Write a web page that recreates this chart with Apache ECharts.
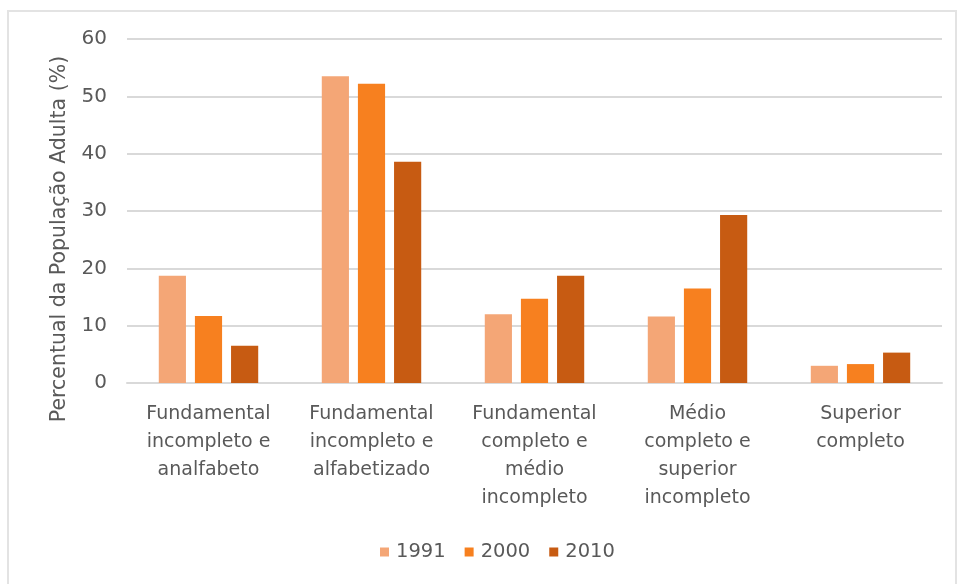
<!DOCTYPE html>
<html>
<head>
<meta charset="utf-8">
<script src="https://cdn.jsdelivr.net/npm/echarts@6/dist/echarts.min.js"></script>
<style>
html,body{margin:0;padding:0;background:#fff;}
#chart{width:958px;height:584px;}
</style>
</head>
<body>
<div id="chart"></div>
<script>
const categories = [
  "Fundamental\nincompleto e\nanalfabeto",
  "Fundamental\nincompleto e\nalfabetizado",
  "Fundamental\ncompleto e\nmédio\nincompleto",
  "Médio\ncompleto e\nsuperior\nincompleto",
  "Superior\ncompleto"
];
const seriesNames = ["1991", "2000", "2010"];
const values1991 = [18.7, 53.5, 12.0, 11.6, 3.0];
const values2000 = [11.7, 52.2, 14.7, 16.5, 3.3];
const values2010 = [6.5, 38.6, 18.7, 29.3, 5.3];
const yTitle = "Percentual da População Adulta (%)";

const colors = ["#F4A676", "#F7801F", "#C75B12"];
const FONT = "'DejaVu Sans', sans-serif";
const TXT = "#595959";

const chart = echarts.init(document.getElementById('chart'), null, {renderer: 'canvas'});
const data = [values1991, values2000, values2010];
chart.setOption({
  animation: false,
  color: colors,
  textStyle: {fontFamily: FONT},
  grid: {left: 127, right: 16, top: 39, bottom: 201},
  graphic: [
    {type: 'rect', shape: {x: 8, y: 11, width: 948, height: 620},
     style: {fill: 'none', stroke: '#e3e3e3', lineWidth: 2}, silent: true},
    {type: 'text', x: 60, y: 239, rotation: Math.PI / 2,
     style: {text: yTitle, fill: TXT, font: "20.5px 'DejaVu Sans'", align: 'center', verticalAlign: 'middle'}}
  ],
  legend: {
    data: seriesNames, top: 537, left: 375,
    itemWidth: 9, itemHeight: 9, itemGap: 19,
    icon: 'rect',
    textStyle: {color: TXT, fontSize: 19.5, fontFamily: FONT, padding: [0, 0, 0, 2]}
  },
  xAxis: {
    type: 'category', data: categories,
    axisLine: {lineStyle: {color: '#d9d9d9', width: 2}},
    axisTick: {show: false},
    axisLabel: {color: TXT, fontSize: 19, lineHeight: 28, margin: 17, interval: 0, fontFamily: FONT, verticalAlign: 'top'}
  },
  yAxis: {
    type: 'value', min: 0, max: 60, interval: 10,
    axisLine: {show: false}, axisTick: {show: false},
    axisLabel: {color: TXT, fontSize: 20, margin: 20, fontFamily: FONT},
    splitLine: {lineStyle: {color: '#d9d9d9', width: 2}}
  },
  series: seriesNames.map((n, i) => ({
    name: n, type: 'bar', data: data[i],
    barGap: '33%', barCategoryGap: '39%'
  }))
});
</script>
</body>
</html>
